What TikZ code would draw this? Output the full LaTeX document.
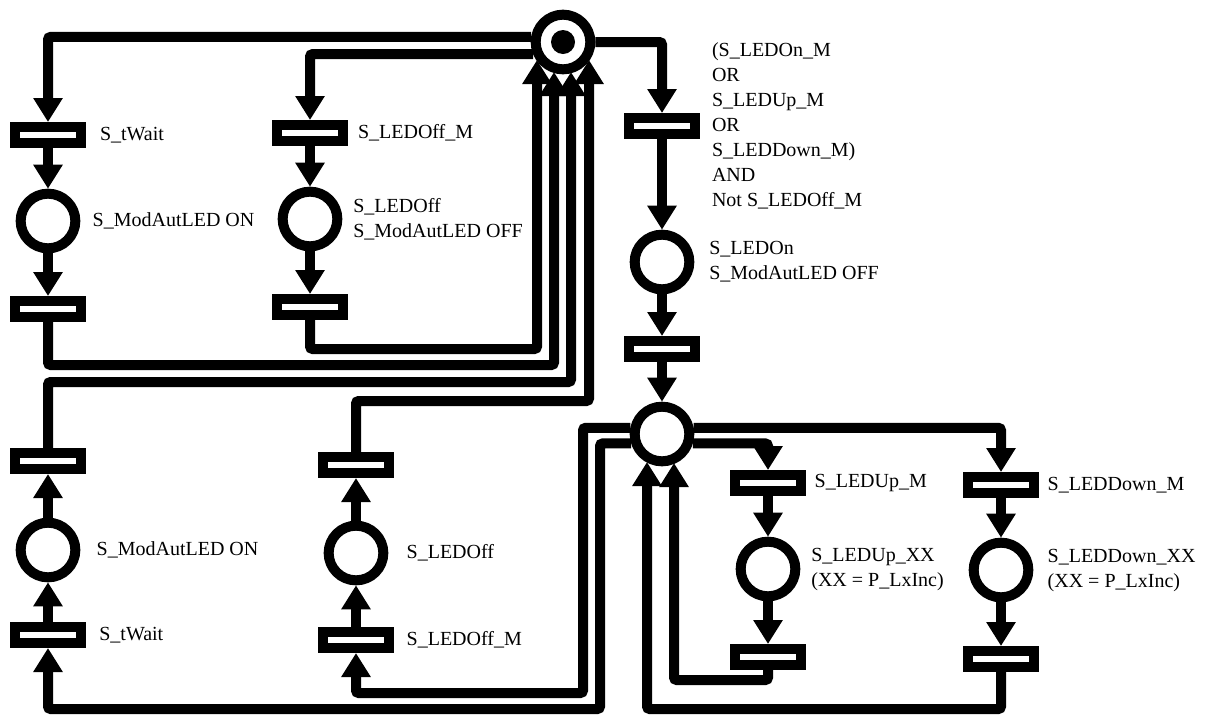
\documentclass[tikz,border=0pt]{standalone}
\usepackage{fontspec}
\setmainfont{Liberation Serif}
\usetikzlibrary{arrows.meta,positioning}

\begin{document}
\begin{tikzpicture}[
  x=0.75pt, y=-0.75pt,
  line width=7.5pt,
  pl/.style={draw, circle, minimum size=41pt, inner sep=0pt},
  tr/.style={draw, rectangle, minimum width=50pt, minimum height=12pt,
             inner sep=0pt},
  tk/.style={circle, fill, minimum size=18pt, inner sep=0pt},
  lb/.style={font=\fontsize{15}{18.75}\selectfont, align=left, inner sep=0pt},
  ar/.style={-{Triangle[length=18pt, width=21pt]}, rounded corners=2pt}
]
  \useasboundingbox (0,0) rectangle (1206,715);

  % upper net
  \node[pl] (hubA) at (563,42) {};
  \node[tk] (tok)  at (hubA) {};
  \node[tr] (twA)   at (48,135) {};
  \node[pl] (modA)  at (48,221) {};
  \node[tr] (twAx)  at (48,309) {};
  \node[tr] (offM)  at (310,133) {};
  \node[pl] (offP)  at (310,219) {};
  \node[tr] (offMx) at (310,307) {};
  \node[tr] (onM)   at (662,126) {};
  \node[pl] (onP)   at (662,262) {};
  \node[tr] (onMx)  at (662,349) {};
  \node[pl] (hubB)  at (662,434) {};

  % lower net
  \node[tr] (twB)   at (48,461) {};
  \node[pl] (modB)  at (48,550) {};
  \node[tr] (twBx)  at (48,635) {};
  \node[tr] (offB)  at (356,465) {};
  \node[pl] (offBP) at (356,553) {};
  \node[tr] (offBx) at (356,640) {};
  \node[tr] (upM)   at (768,483) {};
  \node[pl] (upP)   at (768,569) {};
  \node[tr] (upMx)  at (768,657) {};
  \node[tr] (dnM)   at (1001,485) {};
  \node[pl] (dnP)   at (1001,570) {};
  \node[tr] (dnMx)  at (1001,659) {};

  % labels
  \node[lb, right=6.5pt of twA]  (ltwA)  {S\_tWait};
  \node[lb, right=5.5pt of modA] (lmodA) {S\_ModAutLED ON};
  \node[lb, right=3.5pt of offM] (loffM) {S\_LEDOff\_M};
  \node[lb, right=4.5pt of offP] (loffP) {S\_LEDOff\\S\_ModAutLED OFF};
  \node[lb, right=5pt of onM]    (lonM)
    {(S\_LEDOn\_M\\OR\\S\_LEDUp\_M\\OR\\S\_LEDDown\_M)\\AND\\Not S\_LEDOff\_M};
  \node[lb, right=7.5pt of onP]  (lonP)  {S\_LEDOn\\S\_ModAutLED OFF};
  \node[lb, right=8.5pt of modB] (lmodB) {S\_ModAutLED ON};
  \node[lb, right=6pt of twBx]   (ltwB)  {S\_tWait};
  \node[lb, right=10pt of offBP] (loffB) {S\_LEDOff};
  \node[lb, right=5.5pt of offBx] (loffBx) {S\_LEDOff\_M};
  \node[lb, right=2.5pt of upM]  (lupM)  {S\_LEDUp\_M};
  \node[lb, right=4.5pt of upP]  (lupP)  {S\_LEDUp\_XX\\(XX = P\_LxInc)};
  \node[lb, right=2.5pt of dnM]  (ldnM)  {S\_LEDDown\_M};
  \node[lb, right=7pt of dnP]    (ldnP)  {S\_LEDDown\_XX\\(XX = P\_LxInc)};

  % arrow ends on the two hubs
  \coordinate (inA) at (537,60);
  \coordinate (inB) at (554,72);
  \coordinate (inC) at (571,72);
  \coordinate (inD) at (589,60);
  \coordinate (inE) at (647,462);
  \coordinate (inF) at (674,463);

  % out of the upper hub
  \draw[ar] (hubA.171) -| (twA);
  \draw[ar] (hubA.202) -| (offM);
  \draw[ar] (hubA.east) -| (onM);
  \draw[ar] (twA)--(modA);
  \draw[ar] (modA)--(twAx);
  \draw[ar] (offM)--(offP);
  \draw[ar] (offP)--(offMx);
  \draw[ar] (onM)--(onP);
  \draw[ar] (onP)--(onMx);
  \draw[ar] (onMx)--(hubB);

  % back into the upper hub
  \draw[ar] (offMx) |- (537,349) -- (inA);
  \draw[ar] (twAx) |- (554,365) -- (inB);
  \draw[ar] (twB) |- (571,382) -- (inC);
  \draw[ar] (offB) |- (589,401) -- (inD);

  % lower columns
  \draw[ar] (modB)--(twB);
  \draw[ar] (twBx)--(modB);
  \draw[ar] (offBP)--(offB);
  \draw[ar] (offBx)--(offBP);
  \draw[ar] (hubB.169) -| (583,693) -| (offBx);
  \draw[ar] (hubB.197) -| (600,709) -| (twBx);

  % up / down branches
  \draw[ar] (hubB.11) -| (dnM);
  \draw[ar] (hubB.-17) -| (upM);
  \draw[ar] (upM)--(upP);
  \draw[ar] (upP)--(upMx);
  \draw[ar] (dnM)--(dnP);
  \draw[ar] (dnP)--(dnMx);
  \draw[ar] (upMx) |- (674,680) -- (inF);
  \draw[ar] (dnMx) |- (647,709) -- (inE);
\end{tikzpicture}
\end{document}
